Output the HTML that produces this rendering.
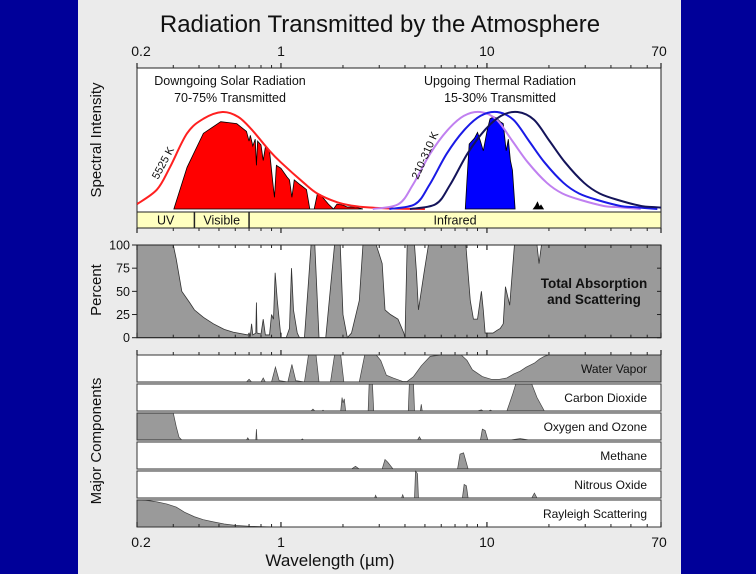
<!DOCTYPE html>
<html><head><meta charset="utf-8">
<style>
html,body{margin:0;padding:0;width:756px;height:574px;overflow:hidden;background:#000099;}
svg{display:block;font-family:"Liberation Sans","DejaVu Sans",sans-serif;}
</style></head>
<body>
<svg id="chart" width="756" height="574" viewBox="0 0 756 574">
  <rect x="0" y="0" width="756" height="574" fill="#000099"/>
  <rect x="78" y="0" width="603" height="574" fill="#ebebeb"/>
  <text x="380" y="32" font-size="24" text-anchor="middle" fill="#111">Radiation Transmitted by the Atmosphere</text>
  <g id="layer"></g>
</svg>
<script>
// ---------- data ----------
const tickMajors = [0.2, 1, 10, 70];
const tickLabels = ["0.2", "1", "10", "70"];
const tickMinors = [0.3,0.4,0.5,0.6,0.7,0.8,0.9,2,3,4,5,6,7,8,9,20,30,40,50,60];
const percentTicks = [0, 25, 50, 75, 100];

const solarCurveWl = [0.2,0.25,0.289,0.35,0.42,0.52,0.62,0.72,0.88,1.0,1.29,1.5,1.87,2.2,2.7,3.5,5];
const solarCurveVal = [0.05,0.2,0.43,0.78,0.93,1,0.95,0.82,0.6,0.48,0.27,0.16,0.07,0.035,0.015,0.005,0];

const solarFillWl = [0.302,0.35,0.42,0.51,0.61,0.68,0.7,0.71,0.73,0.75,0.76,0.77,0.8,0.82,0.84,0.88,0.91,0.93,0.95,1.0,1.07,1.1,1.13,1.16,1.24,1.33,1.38,1.45,1.5,1.55,1.7,1.8,1.87,2.0,2.1,2.3,2.5];
const solarFillVal = [0,0.43,0.78,0.9,0.88,0.8,0.7,0.76,0.65,0.72,0.45,0.7,0.66,0.5,0.64,0.6,0.3,0.12,0.45,0.42,0.33,0.3,0.12,0.3,0.25,0.2,0,0,0.15,0.15,0.05,0,0.05,0.04,0.02,0.02,0];

const thermalVal = [0,0.05,0.25,0.57,0.81,0.96,1,0.92,0.7,0.48,0.27,0.16,0.09,0.03,0.02,0];
const thermal210Wl = [2.79,3.72,4.37,5.3,6.42,7.72,9.3,11.16,13.3,15.81,19.53,23.25,28.83,37.2,42.78,55.8];
const thermal260Wl = [3.36,4.48,5.26,6.38,7.73,9.3,11.2,13.44,16.02,19.04,23.52,28,34.72,44.8,51.52,67.2];
const thermal310Wl = [4.23,5.64,6.63,8.04,9.73,11.7,14.1,16.92,20.16,23.97,29.61,35.25,43.71,56.4,64.86,84.6];

const thermalFillWl = [7.85,8.0,8.2,8.7,9.0,9.3,9.6,10.0,10.35,10.8,11.1,11.6,12.0,12.4,12.7,13.0,13.3,13.7];
const thermalFillVal = [0,0.3,0.67,0.73,0.79,0.7,0.6,0.8,0.93,0.95,0.94,0.9,0.88,0.6,0.72,0.5,0.4,0];
const thermalNoiseWl = [16.8,17.2,17.6,18.0,18.3,18.8];
const thermalNoiseVal = [0,0.03,0.07,0.02,0.04,0];

const totalWl = [0.2,0.3,0.31,0.33,0.36,0.38,0.42,0.47,0.53,0.585,0.69,0.7,0.71,0.72,0.73,0.755,0.76,0.765,0.8,0.82,0.84,0.88,0.9,0.92,0.937,0.96,1.0,1.06,1.1,1.125,1.15,1.2,1.23,1.3,1.36,1.4,1.46,1.53,1.65,1.75,1.82,1.94,2.0,2.1,2.2,2.4,2.5,2.9,3.0,3.1,3.2,3.4,3.7,3.95,4.0,4.1,4.45,4.55,4.65,4.95,5.2,7.6,7.9,8.3,8.6,9.0,9.2,9.4,9.6,9.8,10.7,11.2,11.6,12.0,12.3,12.9,13.6,17.5,17.9,18.4,70];
const totalVal = [100,100,85,50,38,30,22,15,9,6,3,5,2,15,3,5,38,5,4,20,3,3,25,20,70,40,0,0,10,75,30,5,0,0,60,100,100,0,0,60,100,100,25,0,5,40,100,100,90,80,30,25,20,5,0,100,100,70,30,70,100,100,100,40,20,20,35,50,30,5,5,8,10,15,55,35,100,100,80,100,100];

const waterWl = [0.2,0.68,0.7,0.72,0.74,0.8,0.82,0.84,0.9,0.94,0.98,1.08,1.13,1.18,1.3,1.36,1.48,1.53,1.74,1.82,1.95,2.02,2.4,2.55,2.9,3.05,3.25,3.5,3.9,4.1,4.4,4.8,5.3,6.0,7.5,8.0,8.5,9.5,10.5,11.5,12.5,13.5,14.5,15.5,17,18,19,20,70];
const waterVal = [0,0,0.1,0,0,0,0.15,0,0,0.55,0.05,0,0.65,0.05,0,1,1,0,0,1,1,0,0,1,1,0.8,0.25,0.15,0.02,0.02,0.2,0.6,0.95,1,1,0.8,0.45,0.2,0.1,0.1,0.15,0.3,0.4,0.55,0.7,0.85,0.95,1,1];

const co2Wl = [0.2,1.4,1.43,1.46,1.58,1.6,1.62,1.95,1.98,2.0,2.03,2.06,2.65,2.68,2.78,2.82,4.15,4.2,4.4,4.45,4.75,4.8,4.85,9.0,9.4,9.6,10.2,10.4,10.6,12.5,13.3,13.8,16.5,17.5,19,70];
const co2Val = [0,0,0.07,0,0,0.03,0,0,0.5,0.3,0.45,0,0,1,1,0,0,1,1,0,0,0.25,0,0,0.04,0,0,0.03,0,0,0.6,1,1,0.5,0,0];

const ozoneWl = [0.2,0.3,0.31,0.32,0.33,0.68,0.69,0.7,0.755,0.76,0.765,1.25,1.27,1.29,4.6,4.7,4.8,9.3,9.5,9.8,10.1,13,14.5,16,70];
const ozoneVal = [1,1,0.5,0.1,0,0,0.08,0,0,0.4,0,0,0.04,0,0,0.12,0,0,0.4,0.35,0,0,0.05,0,0];

const methaneWl = [0.2,2.2,2.3,2.4,3.1,3.2,3.3,3.5,7.2,7.4,7.7,8.1,70];
const methaneVal = [0,0,0.1,0,0,0.35,0.25,0,0,0.55,0.6,0,0];

const n2oWl = [0.2,2.85,2.88,2.92,3.85,3.9,3.95,4.45,4.5,4.6,4.65,7.6,7.75,7.95,8.1,16.5,17,17.5,70];
const n2oVal = [0,0,0.1,0,0,0.12,0,0,1,0.9,0,0,0.5,0.45,0,0,0.18,0,0];

const rayleighWl = [0.2,0.22,0.25,0.28,0.31,0.34,0.38,0.42,0.47,0.53,0.6,0.7,0.85,1.0,70];
const rayleighVal = [1,0.99,0.93,0.85,0.74,0.55,0.38,0.27,0.19,0.11,0.06,0.03,0.01,0,0];

const rowNames = ["Water Vapor","Carbon Dioxide","Oxygen and Ozone","Methane","Nitrous Oxide","Rayleigh Scattering"];

// ---------- helpers ----------
const NS = "http://www.w3.org/2000/svg";
const layer = document.getElementById('layer');
const X0 = 137, X1 = 661;
const LMIN = Math.log10(0.2), LMAX = Math.log10(70);
function xs(w){ return X0 + (Math.log10(w) - LMIN) / (LMAX - LMIN) * (X1 - X0); }
function mk(tag, attrs, parent){
  const e = document.createElementNS(NS, tag);
  for (const k in attrs) e.setAttribute(k, attrs[k]);
  (parent || layer).appendChild(e);
  return e;
}
function linePath(wl, val, base, h){
  return wl.map((w,i)=>(i?'L':'M')+xs(w).toFixed(2)+','+(base - val[i]*h).toFixed(2)).join(' ');
}
function smoothPath(wl, val, base, h){
  const p = wl.map((w,i)=>[xs(w), base - val[i]*h]);
  let d = 'M'+p[0][0].toFixed(2)+','+p[0][1].toFixed(2);
  for (let i=0;i<p.length-1;i++){
    const p0=p[Math.max(0,i-1)], p1=p[i], p2=p[i+1], p3=p[Math.min(p.length-1,i+2)];
    const c1=[p1[0]+(p2[0]-p0[0])/6, p1[1]+(p2[1]-p0[1])/6];
    const c2=[p2[0]-(p3[0]-p1[0])/6, p2[1]-(p3[1]-p1[1])/6];
    d+=' C'+c1[0].toFixed(2)+','+c1[1].toFixed(2)+' '+c2[0].toFixed(2)+','+c2[1].toFixed(2)+' '+p2[0].toFixed(2)+','+p2[1].toFixed(2);
  }
  return d;
}
function areaPath(wl, val, base, h){
  return linePath(wl,val,base,h)+' L'+xs(wl[wl.length-1]).toFixed(2)+','+base+' L'+xs(wl[0]).toFixed(2)+','+base+' Z';
}
function ticks(y, dir, parent){
  tickMinors.forEach(t=>{ const l=mk('line',{x1:xs(t),x2:xs(t),y1:y,y2:y+dir*3,stroke:'#222','stroke-width':1},parent);
      });
  tickMajors.forEach(t=>{ const l=mk('line',{x1:xs(t),x2:xs(t),y1:y,y2:y+dir*5,stroke:'#222','stroke-width':1.2},parent);
      });
}
const defsEl = mk('defs',{});
const cp = mk('clipPath',{id:'topclip'},defsEl);
mk('rect',{x:X0,y:68,width:X1-X0,height:144},cp);

// ---------- top axis labels ----------
tickMajors.forEach((t,i)=>{
  const tx = mk('text',{x:xs(t)+(i===0?4:(i===3?-2:0)),y:56,'font-size':14,'text-anchor':'middle',fill:'#111'});
  tx.textContent = tickLabels[i];
  
  
});

// ---------- top panel ----------
const topG = mk('g',{});


mk('rect',{x:X0,y:68,width:X1-X0,height:144,fill:'#fff',stroke:'#222','stroke-width':1},topG);
const TB = 209, TH = 97;
const gclip = mk('g',{'clip-path':'url(#topclip)'},topG);
const sf = mk('path',{d:areaPath(solarFillWl,solarFillVal,TB,TH),fill:'#ff0000',stroke:'#000','stroke-width':0.8},gclip);
 
const tf = mk('path',{d:areaPath(thermalFillWl,thermalFillVal,TB,TH),fill:'#0000ff',stroke:'#000','stroke-width':0.8},gclip);
 
const tn = mk('path',{d:areaPath(thermalNoiseWl,thermalNoiseVal,TB,TH),fill:'#000',stroke:'#000','stroke-width':0.8},gclip);
 
const sc = mk('path',{d:smoothPath(solarCurveWl,solarCurveVal,TB,TH),fill:'none',stroke:'#ff2020','stroke-width':2},gclip);
 
[[thermal210Wl,'#c080f0','thermal-curve-210k'],[thermal260Wl,'#1a1ae6','thermal-curve-260k'],[thermal310Wl,'#14145a','thermal-curve-310k']].forEach(c=>{
  const p = mk('path',{d:smoothPath(c[0],thermalVal,TB,TH),fill:'none',stroke:c[1],'stroke-width':2},gclip);
   
});
[['Downgoing Solar Radiation',230,85,'solar-title'],['70-75% Transmitted',230,102,'solar-subtitle'],['Upgoing Thermal Radiation',500,85,'thermal-title'],['15-30% Transmitted',500,102,'thermal-subtitle']].forEach(a=>{
  const t = mk('text',{x:a[1],y:a[2],'font-size':12.5,'text-anchor':'middle',fill:'#111'},topG);
  t.textContent=a[0];  
});
const l1 = mk('text',{x:0,y:0,'font-size':11,fill:'#111',transform:'translate(158,180) rotate(-62)'},topG);
l1.textContent='5525 K';  
const l2 = mk('text',{x:0,y:0,'font-size':11,fill:'#111',transform:'translate(418,180) rotate(-66)'},topG);
l2.textContent='210-310 K';  
// band bar
mk('rect',{x:X0,y:212,width:X1-X0,height:16,fill:'#ffffc0',stroke:'#222','stroke-width':1},topG);
mk('line',{x1:xs(0.38),x2:xs(0.38),y1:212,y2:228,stroke:'#222','stroke-width':1.5},topG);
mk('line',{x1:xs(0.7),x2:xs(0.7),y1:212,y2:228,stroke:'#222','stroke-width':1.5},topG);
[['UV',(X0+xs(0.38))/2,'uv-band'],['Visible',(xs(0.38)+xs(0.7))/2,'visible-band'],['Infrared',(xs(0.7)+X1)/2,'infrared-band']].forEach(a=>{
  const t=mk('text',{x:a[1],y:224.5,'font-size':12.5,'text-anchor':'middle',fill:'#111'},topG);
  t.textContent=a[0];  
});
ticks(68,-1,topG); ticks(228,1,topG);
const yl1 = mk('text',{x:0,y:0,'font-size':15,'text-anchor':'middle',fill:'#111',transform:'translate(101,140) rotate(-90)'});
yl1.textContent='Spectral Intensity';  

// ---------- total absorption panel ----------
const P0 = 245, P1 = 337.7;
const midG = mk('g',{});


mk('rect',{x:X0,y:P0,width:X1-X0,height:P1-P0,fill:'#fff'},midG);
const ta = mk('path',{d:areaPath(totalWl,totalVal,P1,(P1-P0)/100),fill:'#9a9a9a',stroke:'#333','stroke-width':0.8},midG);
 
mk('rect',{x:X0,y:P0,width:X1-X0,height:P1-P0,fill:'none',stroke:'#222','stroke-width':1},midG);
ticks(P0,1,midG); ticks(P1,-1,midG);
percentTicks.forEach(v=>{
  const y = P1 - v*(P1-P0)/100;
  mk('line',{x1:X0-5,x2:X0,y1:y,y2:y,stroke:'#222'},midG);
  mk('line',{x1:X1,x2:X1-4,y1:y,y2:y,stroke:'#222'},midG);
  const t = mk('text',{x:X0-7,y:y+4.5,'font-size':12.5,'text-anchor':'end',fill:'#111'},midG);
  t.textContent=String(v);  
});
[['Total Absorption',288],['and Scattering',304]].forEach(a=>{
  const t=mk('text',{x:594,y:a[1],'font-size':13.5,'font-weight':'bold','text-anchor':'middle',fill:'#111'},midG);
  t.textContent=a[0];  
});
const yl2 = mk('text',{x:0,y:0,'font-size':15,'text-anchor':'middle',fill:'#111',transform:'translate(101,290) rotate(-90)'});
yl2.textContent='Percent';  

// ---------- component rows ----------
const rowsWl = [waterWl,co2Wl,ozoneWl,methaneWl,n2oWl,rayleighWl];
const rowsVal = [waterVal,co2Val,ozoneVal,methaneVal,n2oVal,rayleighVal];
const rowTop = [355,384,413,442,471,500];
const RH = 27;
const compG = mk('g',{});


rowNames.forEach((name,i)=>{
  const g = mk('g',{},compG);
  
  
  const y0 = rowTop[i], base = y0+RH;
  mk('rect',{x:X0,y:y0,width:X1-X0,height:RH,fill:'#fff'},g);
  const a = mk('path',{d:areaPath(rowsWl[i],rowsVal[i],base,RH),fill:'#9a9a9a',stroke:'#444','stroke-width':0.7},g);
  
  
  mk('rect',{x:X0,y:y0,width:X1-X0,height:RH,fill:'none',stroke:'#333','stroke-width':1},g);
  const t = mk('text',{x:647,y:y0+18,'font-size':12,'text-anchor':'end',fill:'#111'},g);
  t.textContent=name;
  
  
});
ticks(355,-1,compG); ticks(527,-1,compG);
const yl3 = mk('text',{x:0,y:0,'font-size':15,'text-anchor':'middle',fill:'#111',transform:'translate(101,441) rotate(-90)'});
yl3.textContent='Major Components';  

// ---------- bottom axis ----------
tickMajors.forEach((t,i)=>{
  const tx = mk('text',{x:xs(t)+(i===0?4:(i===3?-2:0)),y:547,'font-size':14,'text-anchor':'middle',fill:'#111'});
  tx.textContent = tickLabels[i];
  
  
});
const xl = mk('text',{x:330,y:566,'font-size':17,'text-anchor':'middle',fill:'#111'});
xl.textContent='Wavelength (µm)';


</script>
</body></html>
